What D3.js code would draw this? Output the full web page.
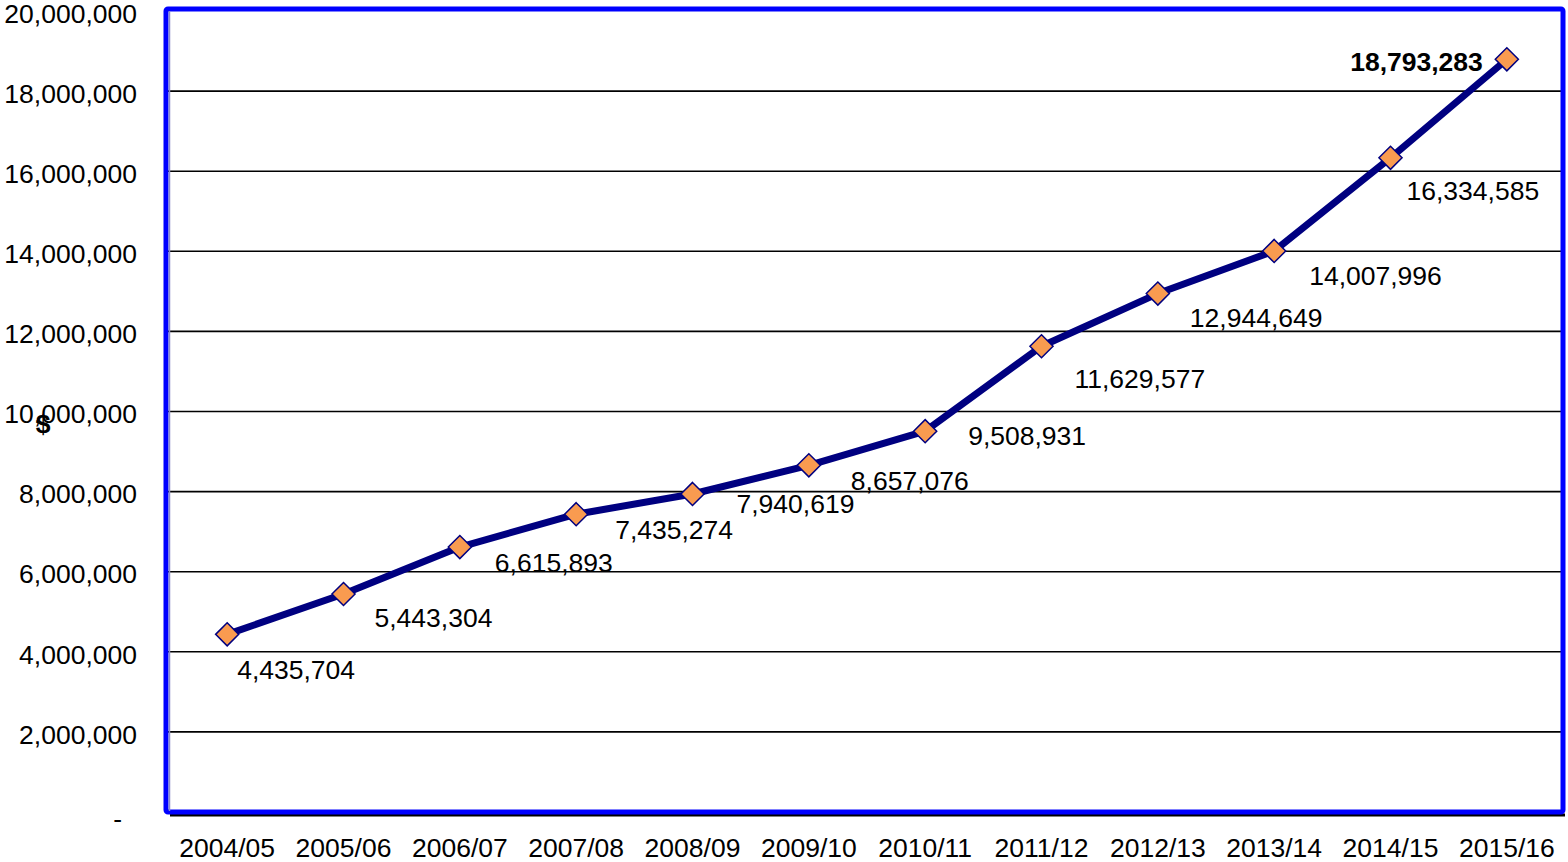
<!DOCTYPE html>
<html>
<head>
<meta charset="utf-8">
<script src="https://cdn.jsdelivr.net/npm/d3@7"></script>
<style>
  body { margin: 0; background: #fff; }
  svg { display: block; font-family: "Liberation Sans", Arial, sans-serif; }
</style>
</head>
<body>
<div id="chart"></div>
<script>
// data
const years = ["2004/05", "2005/06", "2006/07", "2007/08", "2008/09", "2009/10",
               "2010/11", "2011/12", "2012/13", "2013/14", "2014/15", "2015/16"];
const amounts = [4435704, 5443304, 6615893, 7435274, 7940619, 8657076,
                 9508931, 11629577, 12944649, 14007996, 16334585, 18793283];
const yTicks = [0, 2000000, 4000000, 6000000, 8000000, 10000000,
                12000000, 14000000, 16000000, 18000000, 20000000];

// label placement (Excel put these by hand, roughly below-right of each point)
const labelOffsets = [[10, 35], [31, 24], [35, 16], [39, 16], [44, 10], [42, 15],
                      [43, 5], [33, 32], [32, 24], [35, 25], [16, 33], [-24, 2]];

const W = 1568, H = 862;
const plot = { left: 168, right: 1564, top: 10, bottom: 812 };
const fs = 26.5;

const svg = d3.select("#chart").append("svg")
  .attr("width", W)
  .attr("height", H);

const x = d3.scaleBand()
  .domain(years)
  .range([plot.left + 1, plot.right + 1])
  .padding(0);

const y = d3.scaleLinear()
  .domain([0, 20000000])
  .range([plot.bottom, 11]);

const fmt = d3.format(",");

// gridlines
svg.append("g")
  .selectAll("line")
  .data(yTicks.filter(d => d > 0 && d < 20000000))
  .enter().append("line")
  .attr("x1", plot.left)
  .attr("x2", plot.right)
  .attr("y1", d => y(d))
  .attr("y2", d => y(d))
  .attr("stroke", "#000")
  .attr("stroke-width", 1.6);

// plot border: blue frame, black shadow, grey inner line on the left
svg.append("line")
  .attr("x1", plot.left + 2).attr("x2", plot.right + 1)
  .attr("y1", plot.bottom + 3).attr("y2", plot.bottom + 3)
  .attr("stroke", "#000").attr("stroke-width", 3);
svg.append("rect")
  .attr("x", plot.left - 2)
  .attr("y", plot.top - 1)
  .attr("width", plot.right - plot.left + 1)
  .attr("height", plot.bottom - plot.top + 1)
  .attr("rx", 2)
  .attr("fill", "none")
  .attr("stroke", "#0000ff")
  .attr("stroke-width", 5);
svg.append("line")
  .attr("x1", plot.left + 1.5).attr("x2", plot.left + 1.5)
  .attr("y1", plot.top + 1).attr("y2", plot.bottom - 1)
  .attr("stroke", "#8a8ac8").attr("stroke-width", 1.5);

// y axis labels
const yAxis = svg.append("g")
  .attr("transform", "translate(137,0)")
  .call(d3.axisLeft(y).tickValues(yTicks).tickSize(0).tickPadding(0)
    .tickFormat(d => d === 0 ? "-" : fmt(d)));
yAxis.select(".domain").remove();
yAxis.selectAll("text")
  .attr("font-size", fs)
  .attr("font-family", "'Liberation Sans', Arial, sans-serif")
  .attr("fill", "#000")
  .attr("dy", "0.35em")
  .attr("x", d => d === 0 ? -15 : 0)
  .attr("y", d => d === 0 ? 6 : 2);

// x axis labels
const xAxis = svg.append("g")
  .attr("transform", "translate(0," + 838 + ")")
  .call(d3.axisBottom(x).tickSize(0).tickPadding(0));
xAxis.select(".domain").remove();
xAxis.selectAll("text")
  .attr("font-size", fs)
  .attr("font-family", "'Liberation Sans', Arial, sans-serif")
  .attr("fill", "#000")
  .attr("dy", "0.71em");

// axis title
svg.append("text")
  .attr("x", 43)
  .attr("y", 424)
  .attr("dy", "0.35em")
  .attr("text-anchor", "middle")
  .attr("font-size", fs)
  .attr("font-weight", "bold")
  .text("$");

// line
const cx = d => x(d) + x.bandwidth() / 2;
const line = d3.line()
  .x((d, i) => cx(years[i]))
  .y(d => y(d));

svg.append("path")
  .datum(amounts)
  .attr("d", line)
  .attr("fill", "none")
  .attr("stroke", "#000080")
  .attr("stroke-width", 7)
  .attr("stroke-linejoin", "round");

// diamond markers
svg.selectAll(".marker")
  .data(amounts)
  .enter().append("path")
  .attr("class", "marker")
  .attr("d", d3.symbol().type(d3.symbolDiamond2).size(340))
  .attr("transform", (d, i) => `translate(${cx(years[i])},${y(d)})`)
  .attr("fill", "#f99b50")
  .attr("stroke", "#000080")
  .attr("stroke-width", 1.5);

// data labels
svg.selectAll(".label")
  .data(amounts)
  .enter().append("text")
  .attr("class", "label")
  .attr("x", (d, i) => cx(years[i]) + labelOffsets[i][0])
  .attr("y", (d, i) => y(d) + labelOffsets[i][1])
  .attr("dy", "0.35em")
  .attr("text-anchor", (d, i) => i === amounts.length - 1 ? "end" : "start")
  .attr("font-size", fs)
  .attr("font-weight", (d, i) => i === amounts.length - 1 ? "bold" : "normal")
  .text(d => fmt(d));
</script>
</body>
</html>
